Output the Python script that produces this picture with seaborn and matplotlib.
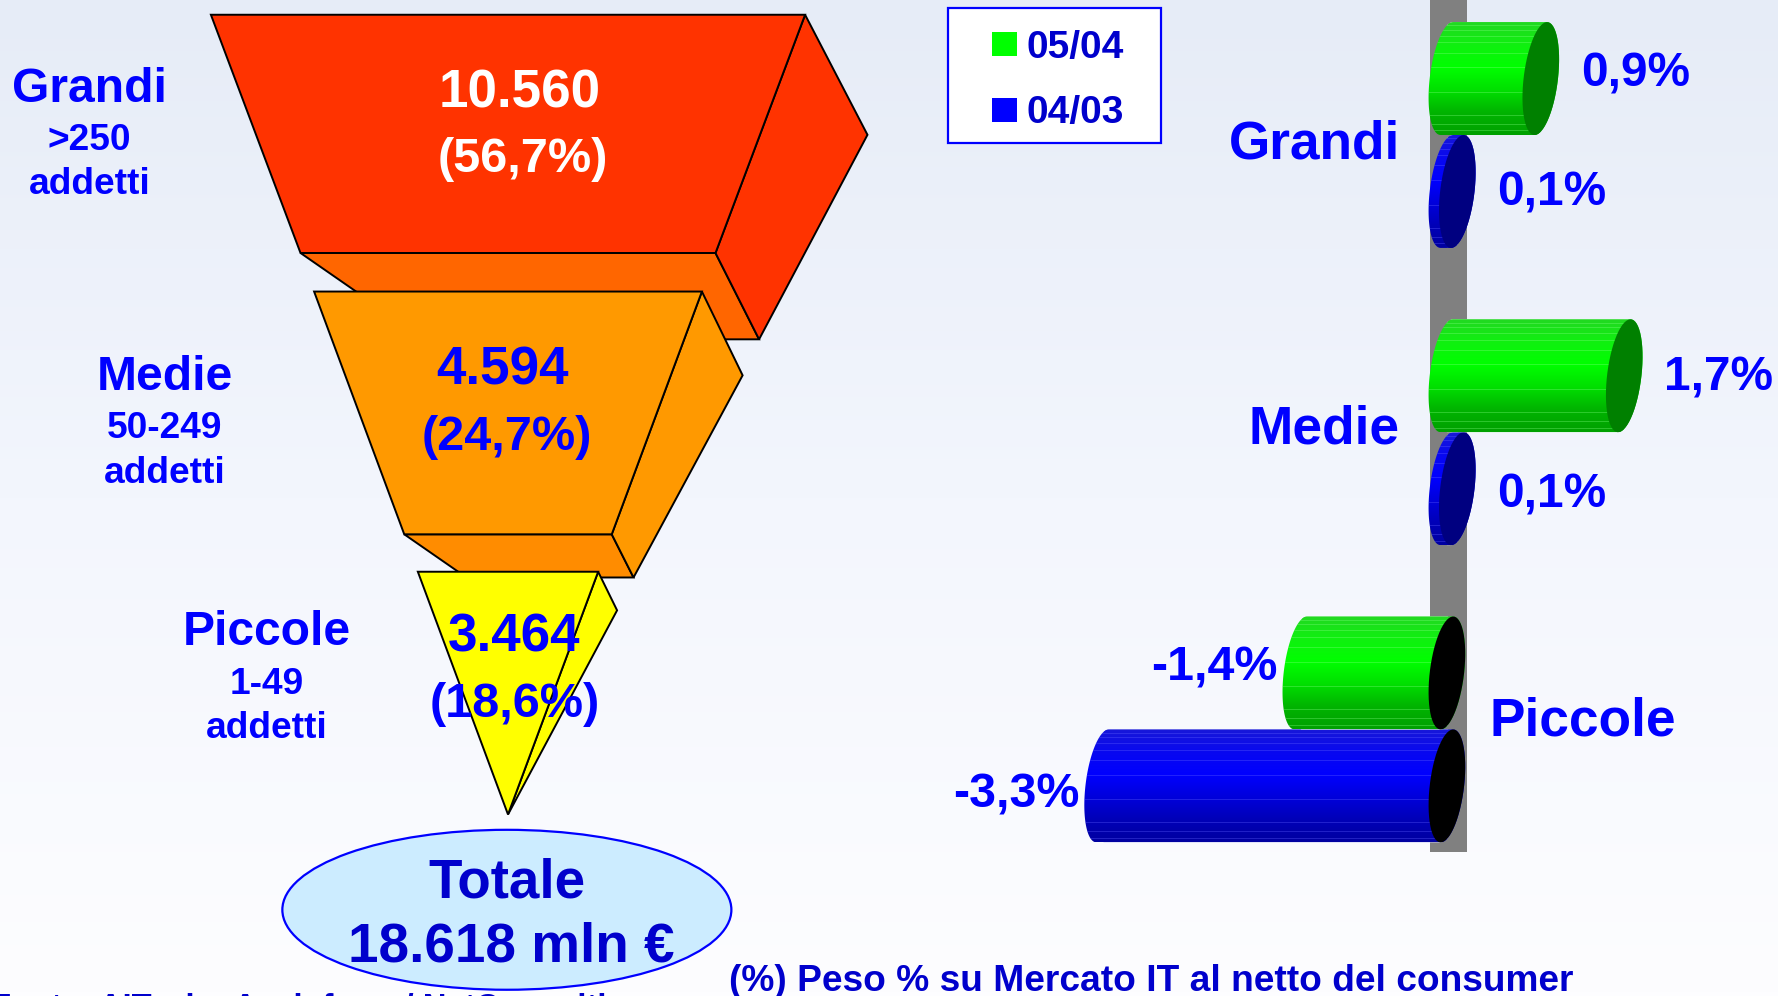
"""Funnel of the IT market by company size, with growth cylinders on the right."""

import matplotlib.pyplot as plt
import numpy as np
import pandas as pd
import seaborn as sns
from matplotlib.colors import LinearSegmentedColormap, to_rgb
from matplotlib.patches import Ellipse, Polygon, Rectangle

# ── data ──────────────────────────────────────────────────────────────────────
CATEGORIES = ["Grandi", "Medie", "Piccole"]
SIZE_BANDS = [">250", "50-249", "1-49"]
SPEND = ["10.560", "4.594", "3.464"]
SHARE = ["(56,7%)", "(24,7%)", "(18,6%)"]
GROWTH_0504 = [0.9, 1.7, -1.4]
GROWTH_0403 = [0.1, 0.1, -3.3]
PERIODS = ["05/04", "04/03"]
TOTAL = "18.618 mln €"

# ── layout and style, page units are the 1568x878 view of the slide ───────────
BLUE = "#0000FF"
DARK_BLUE = "#0000CC"
FONT = "Liberation Sans"
TEXT_DY = 4

TIER_CENTER = 448
TIER_TOP = [13, 257, 504]
TIER_BOTTOM = [223, 471, 718]
TIER_TOP_W = [524, 342, 159]
TIER_BOTTOM_W = [366, 183, 0]
TIER_DROP = [0.202, 0.216, 0.214]
TIER_FRONT = ["#FF3300", "#FF9900", "#FFFF00"]
TIER_UNDER = ["#FF6600", "#FF8C00", "#FFFF00"]
TIER_TEXT = ["white", BLUE, BLUE]
VALUE_POS = [(458, 78, 461, 137), (443, 323, 447, 382), (453, 558, 454, 617)]
LABEL_POS = [(79, 75, 120, 159), (145, 329, 374, 413), (235, 554, 599, 638)]

ZERO_X = 1276
PX_PER_POINT = 92
FIRST_ROW_Y = 119
ROW_STEP = 262

CAP_A, CAP_SHEAR = 0.165, 0.06
BANDS = [0.03, 0.07, 0.12, 0.18, 0.27, 0.40, 0.62, 0.82, 0.90, 0.96]
SERIES_STYLE = {
    "05/04": {"stops": ["#22D822", "#10F010", "#00FF00", "#00E000", "#00B400", "#00A000"],
              "cap": "#008000", "line": "#80FF80"},
    "04/03": {"stops": ["#1818D8", "#0808F0", "#0000FF", "#0000DC", "#0000B8", "#0000A0"],
              "cap": "#000080", "line": "#6060FF"},
}
LABEL_NUDGE = {"05/04": [-4, 2, -4], "04/03": [1, 6, 8]}

# ── canvas ────────────────────────────────────────────────────────────────────
sns.set_theme(style="white")
plt.rcParams["font.family"] = [FONT, "DejaVu Sans"]
plt.rcParams["font.weight"] = "bold"

fig = plt.figure(figsize=(17.78, 9.96), dpi=100)
page = fig.add_axes([0, 0, 1, 1], zorder=1)
bars = fig.add_axes([0, 0, 1, 1], zorder=2)
bars.patch.set_alpha(0)

backdrop = LinearSegmentedColormap.from_list("backdrop", ["#E6ECF7", "#F3F6FD", "#FDFDFF"])
page.imshow(np.linspace(0, 1, 256)[:, None], cmap=backdrop, aspect="auto",
            extent=(0, 1568, 878, 0), zorder=0)
page.set_xlim(0, 1568)
page.set_ylim(878, 0)
page.axis("off")

# ── funnel ────────────────────────────────────────────────────────────────────
for i, name in enumerate(CATEGORIES):
    top, bottom = TIER_TOP[i], TIER_BOTTOM[i]
    wt, wb = TIER_TOP_W[i], TIER_BOTTOM_W[i]
    tl, tr = TIER_CENTER - wt / 2, TIER_CENTER + wt / 2
    bl, br = TIER_CENTER - wb / 2, TIER_CENTER + wb / 2
    top_back = (tr + 0.105 * wt, top + TIER_DROP[i] * wt)
    bottom_back = (br + 0.105 * wb, bottom + 0.208 * wb)
    style = dict(edgecolor="black", linewidth=1.4, joinstyle="miter", zorder=3 + i)

    page.add_patch(Polygon([(bl, bottom), (br, bottom), bottom_back,
                            (bl + 0.6 * wb, bottom_back[1]), (bl + 0.3 * wb, bottom_back[1])],
                           facecolor=TIER_UNDER[i], **style))
    page.add_patch(Polygon([(tr, top), top_back, bottom_back, (br, bottom)],
                           facecolor=TIER_FRONT[i], **style))
    page.add_patch(Polygon([(tl, top), (tr, top), (br, bottom), (bl, bottom)],
                           facecolor=TIER_FRONT[i], **style))

    vx, vy, sx, sy = VALUE_POS[i]
    page.text(vx, vy + TEXT_DY, SPEND[i], color=TIER_TEXT[i], fontsize=38.2, ha="center", va="center", zorder=8)
    page.text(sx, sy + TEXT_DY, SHARE[i], color=TIER_TEXT[i], fontsize=35, ha="center", va="center", zorder=8)

    lx, ly, by, ay = LABEL_POS[i]
    page.text(lx, ly + TEXT_DY, name, color=BLUE, fontsize=34.6, ha="center", va="center", zorder=8)
    page.text(lx, by + TEXT_DY, SIZE_BANDS[i], color=BLUE, fontsize=26.7, ha="center", va="center", zorder=8)
    page.text(lx, ay + TEXT_DY, "addetti", color=BLUE, fontsize=26.7, ha="center", va="center", zorder=8)

page.add_patch(Ellipse((447, 802), 396, 141, facecolor="#CCECFF", edgecolor=BLUE, linewidth=1.6, zorder=3))
page.text(447, 775 + TEXT_DY, "Totale", color=DARK_BLUE, fontsize=39.4, ha="center", va="center", zorder=8)
page.text(451, 831 + TEXT_DY, TOTAL, color=DARK_BLUE, fontsize=39.5, ha="center", va="center", zorder=8)

# ── legend box, footers, wall ─────────────────────────────────────────────────
page.add_patch(Rectangle((836, 7), 188, 119, facecolor="white", edgecolor=BLUE, linewidth=1.6, zorder=3))
for period, y, colour in zip(PERIODS, [39, 97], ["#00FF00", BLUE]):
    page.add_patch(Rectangle((875, y - 10.5), 22, 21, facecolor=colour, edgecolor="none", zorder=4))
    page.text(905, y + 3, period, color=DARK_BLUE, fontsize=28, ha="left", va="center", zorder=8)

page.text(643, 865, "(%) Peso % su Mercato IT al netto del consumer", color=DARK_BLUE,
          fontsize=26.7, ha="left", va="center", zorder=8)
page.text(-8, 889, "Fonte: AITech - Assinform / NetConsulting", color=DARK_BLUE,
          fontsize=23.6, ha="left", va="center", zorder=2)
page.add_patch(Rectangle((1261, 0), 33, 751, facecolor="#808080", edgecolor="none", zorder=1))

# ── growth bars ───────────────────────────────────────────────────────────────
growth = pd.DataFrame({
    "category": CATEGORIES * 2,
    "period": [PERIODS[0]] * 3 + [PERIODS[1]] * 3,
    "growth": GROWTH_0504 + GROWTH_0403,
})
sns.barplot(data=growth, x="growth", y="category", hue="period", order=CATEGORIES,
            hue_order=PERIODS, orient="h", width=0.76, gap=0, dodge=True,
            palette=["#00FF00", BLUE], legend=False, ax=bars)


def cap_points(centre, mid, half, start, stop):
    t = np.radians(np.linspace(start, stop, 60))
    return np.column_stack([centre + CAP_A * np.cos(t) - CAP_SHEAR * np.sin(t), mid + half * np.sin(t)])


def draw_cylinder(patch, period, base_z):
    style = SERIES_STYLE[period]
    y0, height = patch.get_y(), patch.get_height()
    mid, half = y0 + height / 2, height / 2
    low = min(patch.get_x(), patch.get_x() + patch.get_width())
    high = max(patch.get_x(), patch.get_x() + patch.get_width())

    body = Polygon(np.vstack([cap_points(low, mid, half, 270, 90), cap_points(high, mid, half, 90, -90)]),
                   closed=True, facecolor="none", edgecolor="none", transform=bars.transData)
    bars.add_patch(body)
    patch.set_clip_path(body)
    patch.set_zorder(base_z)

    ramp = LinearSegmentedColormap.from_list(period, [to_rgb(c) for c in style["stops"]])
    shade = bars.imshow(np.linspace(0, 1, 128)[:, None], cmap=ramp, aspect="auto",
                        extent=(low - 0.3, high + 0.3, y0 + height, y0), zorder=base_z + 0.1)
    shade.set_clip_path(body)
    for frac in BANDS:
        line = bars.hlines(y0 + frac * height, low - 0.3, high + 0.3, color=style["line"],
                           linewidth=0.7, alpha=0.35, zorder=base_z + 0.2)
        line.set_clip_path(body)

    end = cap_points(high, mid, half, 0, 360)
    bars.fill(end[:, 0], end[:, 1], color=style["cap"] if high > 0 else "black",
              linewidth=0, zorder=base_z + 0.3)


# 04/03 goes under 05/04 where the cylinders touch
for s, period in reversed(list(enumerate(PERIODS))):
    for i, patch in enumerate(bars.containers[s].patches):
        z = 4 + (1 - s)
        draw_cylinder(patch, period, z)
        value = growth[growth["period"] == period]["growth"].iloc[i]
        y = patch.get_y() + patch.get_height() / 2 + LABEL_NUDGE[period][i] / ROW_STEP
        text = f"{value:.1f}%".replace(".", ",")
        if value > 0:
            bars.text(value + 0.385, y, text, color=BLUE, fontsize=34.4, ha="left", va="center", zorder=8)
        else:
            bars.text(value - 0.22, y, text, color=BLUE, fontsize=34.8, ha="right", va="center", zorder=8)

bars.set_xlim(-ZERO_X / PX_PER_POINT, (1568 - ZERO_X) / PX_PER_POINT)
bars.set_ylim((878 - FIRST_ROW_Y) / ROW_STEP, -FIRST_ROW_Y / ROW_STEP)
bars.axis("off")

for name, edge, ha, dy in zip(CATEGORIES, [-0.45, -0.45, 0.41], ["right", "right", "left"], [8, -2, -7]):
    row = CATEGORIES.index(name) + dy / ROW_STEP
    bars.text(edge, row, name, color=BLUE, fontsize=38.3, ha=ha, va="center", zorder=8)

# ── save ──────────────────────────────────────────────────────────────────────
fig.savefig("out.png", dpi=100)
